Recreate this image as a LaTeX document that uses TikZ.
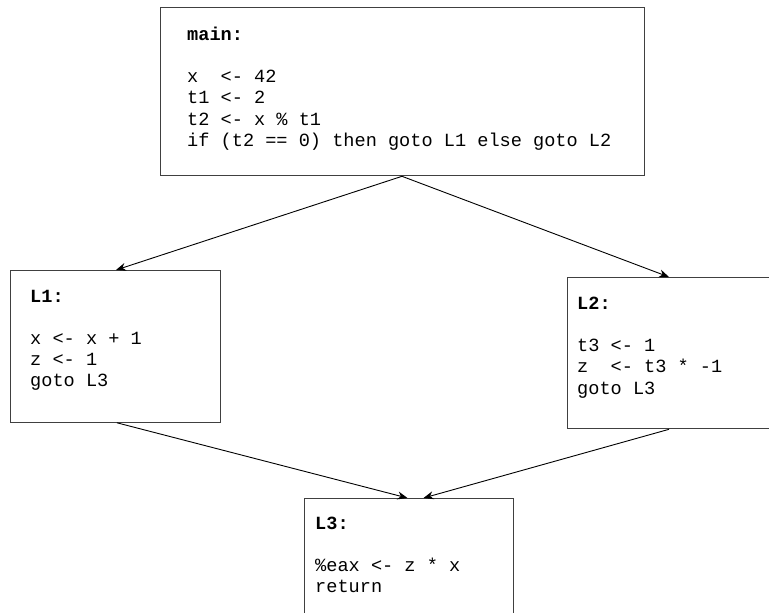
\documentclass[tikz,border=0pt]{standalone}
\usepackage{fontspec}
\setmonofont{Liberation Mono}
\usetikzlibrary{arrows.meta}
\begin{document}
\begin{tikzpicture}[x=1pt,y=-1pt,
  blk/.style={draw=black!75,line width=1.3pt,rectangle,inner sep=0pt,anchor=north west},
  code/.style={anchor=base west,inner sep=0pt,font=\fontsize{18.6}{21.3}\selectfont\ttfamily},
  lbl/.style={code,font=\fontsize{18.6}{21.3}\selectfont\ttfamily\bfseries},
  flow/.style={draw=black,line width=0.9pt,-{Stealth[length=10pt,width=8pt]}}]
\useasboundingbox (0,0) rectangle (769,613);
\clip (0,0) rectangle (769,613);
\fill[white] (0,0) rectangle (769,613);
% boxes
\node[blk,minimum width=484pt,minimum height=168pt] (main) at (160,7) {};
\node[blk,minimum width=210.5pt,minimum height=151.5pt] (L1) at (9.5,270) {};
\node[blk,minimum width=210pt,minimum height=151pt] (L2) at (567,277) {};
\node[blk,minimum width=209.5pt,minimum height=125pt] (L3) at (303.5,498) {};
% main text
\node[lbl] (m0) at (187,40) {main:};
\node[code] (m1) at (187,82) {x\ \ <- 42};
\node[code] (m2) at (187,103.5) {t1 <- 2};
\node[code] (m3) at (187,125) {t2 <- x \% t1};
\node[code] (m4) at (187,146.5) {if (t2 == 0) then goto L1 else goto L2};
% L1 text
\node[lbl] (a0) at (30,302) {L1:};
\node[code] (a1) at (30,344) {x <- x + 1};
\node[code] (a2) at (30,365) {z <- 1};
\node[code] (a3) at (30,386) {goto L3};
% L2 text
\node[lbl] (b0) at (577,309.5) {L2:};
\node[code] (b1) at (577,351.5) {t3 <- 1};
\node[code] (b2) at (577,372.5) {z\ \ <- t3 * -1};
\node[code] (b3) at (577,394) {goto L3};
% L3 text
\node[lbl] (c0) at (315,529) {L3:};
\node[code] (c1) at (315,571) {\%eax <- z * x};
\node[code] (c2) at (315,592) {return};
% connectors
\coordinate (mS) at ([xshift=242pt]main.south west);
\coordinate (L1N) at ([xshift=106.5pt]L1.north west);
\coordinate (L1S) at ([xshift=107.5pt]L1.south west);
\coordinate (L2N) at ([xshift=102pt]L2.north west);
\coordinate (L2S) at ([xshift=102pt]L2.south west);
\coordinate (L3a) at ([xshift=104pt]L3.north west);
\coordinate (L3b) at ([xshift=120pt]L3.north west);
\draw[flow] (mS) -- (L1N);
\draw[flow] (mS) -- (L2N);
\draw[flow] (L1S) -- (L3a);
\draw[flow] (L2S) -- (L3b);
\end{tikzpicture}
\end{document}
